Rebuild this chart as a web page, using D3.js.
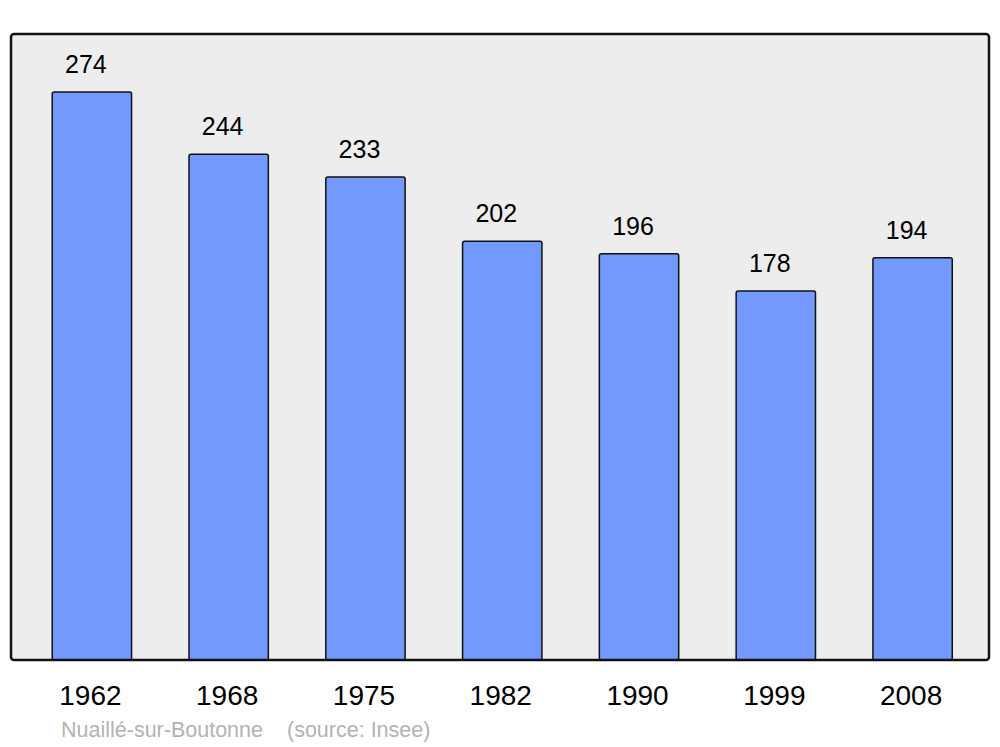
<!DOCTYPE html>
<html>
<head>
<meta charset="utf-8">
<script src="https://cdn.jsdelivr.net/npm/d3@7"></script>
<style>
  body { margin: 0; background: #fff; }
  text { font-family: "Liberation Sans", Arial, sans-serif; }
</style>
</head>
<body>
<script>
// data
var years = ["1962", "1968", "1975", "1982", "1990", "1999", "2008"]
var population = [274, 244, 233, 202, 196, 178, 194]
var commune = "Nuaillé-sur-Boutonne"
var source = "(source: Insee)"

var width = 1000
var height = 747

// plot frame
var frame = { left: 11, top: 34, right: 989, bottom: 660 }

var svg = d3.select("body")
    .append("svg")
    .attr("width", width)
    .attr("height", height)

// x as bands, one per census year
var xScale = d3.scaleBand()
    .domain(years)
    .range([23.5, 981])
    .paddingInner(0.42)
    .paddingOuter(0.21)

// y linear, 0 sits on the frame bottom
var yScale = d3.scaleLinear()
    .domain([0, 302])
    .range([frame.bottom, frame.top])

// background panel
svg.append("rect")
    .attr("x", frame.left)
    .attr("y", frame.top)
    .attr("width", frame.right - frame.left)
    .attr("height", frame.bottom - frame.top)
    .attr("rx", 3)
    .attr("fill", "#ededed")

// bars
svg.selectAll("rect.bar")
    .data(population)
    .enter()
    .append("rect")
    .attr("class", "bar")
    .attr("x", (d, i) => xScale(years[i]))
    .attr("y", d => yScale(d))
    .attr("width", xScale.bandwidth())
    .attr("height", d => yScale(0) - yScale(d))
    .attr("rx", 2)
    .attr("fill", "#7399ff")
    .attr("stroke", "#111")
    .attr("stroke-width", 1.5)

// frame outline drawn on top
svg.append("rect")
    .attr("x", frame.left)
    .attr("y", frame.top)
    .attr("width", frame.right - frame.left)
    .attr("height", frame.bottom - frame.top)
    .attr("rx", 3)
    .attr("fill", "none")
    .attr("stroke", "#111")
    .attr("stroke-width", 2.5)

// value labels
svg.selectAll("text.value")
    .data(population)
    .enter()
    .append("text")
    .attr("class", "value")
    .attr("x", (d, i) => xScale(years[i]) + xScale.bandwidth() / 2 - 6)
    .attr("y", d => yScale(d) - 19)
    .attr("text-anchor", "middle")
    .attr("font-size", 25)
    .attr("fill", "#000")
    .text(d => d)

// year labels
svg.selectAll("text.year")
    .data(years)
    .enter()
    .append("text")
    .attr("class", "year")
    .attr("x", d => xScale(d) + xScale.bandwidth() / 2 - 1.5)
    .attr("y", 705)
    .attr("text-anchor", "middle")
    .attr("font-size", 28)
    .attr("fill", "#000")
    .text(d => d)

// footer
svg.append("text")
    .attr("x", 61)
    .attr("y", 737)
    .attr("font-size", 21.5)
    .attr("fill", "#b3b3b3")
    .text(commune)

svg.append("text")
    .attr("x", 287)
    .attr("y", 737)
    .attr("font-size", 21.5)
    .attr("fill", "#b3b3b3")
    .text(source)
</script>
</body>
</html>
